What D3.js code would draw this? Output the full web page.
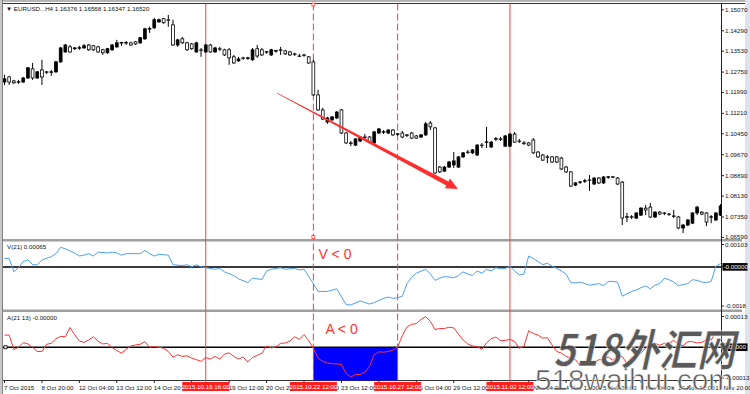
<head>
    <meta charset="utf-8">
    <style> body { margin: 0; background: #fff; } text { font-family: "Liberation Sans", Arial, sans-serif; } </style>
    <script src="https://d3js.org/d3.v7.min.js"></script>
</head>
<body>
<div id="chart"></div>
<script>

// EURUSD H4 candles, bar 0 = 7 Oct 2015 12:00
var opens = [1.1238,1.1257,1.1242,1.1238,1.1238,1.1253,1.1287,1.1253,1.1283,1.1276,
    1.1275,1.1276,1.1313,1.1350,1.1369,1.1362,1.1365,1.1365,1.1376,1.1373,
    1.1369,1.1358,1.1347,1.1358,1.1369,1.1384,1.1385,1.1384,1.1388,1.1384,
    1.1399,1.1436,1.1440,1.1462,1.1474,1.1470,1.1451,1.1376,1.1399,1.1384,
    1.1380,1.1350,1.1358,1.1350,1.1376,1.1350,1.1362,1.1358,1.1358,1.1332,
    1.1317,1.1328,1.1327,1.1321,1.1362,1.1358,1.1350,1.1339,1.1354,1.1358,
    1.1354,1.1350,1.1343,1.1335,1.1339,1.1332,1.1313,1.1190,1.1134,1.1089,
    1.1097,1.1104,1.1134,1.1048,1.1011,1.1003,1.1018,1.1033,1.1033,1.1011,
    1.1048,1.1052,1.1048,1.1059,1.1044,1.1048,1.1041,1.1048,1.1037,1.1033,
    1.1041,1.1085,1.1067,1.0921,1.0906,1.0921,1.0929,1.0921,1.0959,1.0977,
    1.0974,1.0966,1.1003,1.1014,1.0996,1.1026,1.1026,1.0999,1.0999,1.1044,
    1.1018,1.1011,1.1011,1.1022,1.0977,1.0966,1.0959,1.0959,1.0959,1.0955,
    1.0921,1.0903,1.0854,1.0865,1.0869,1.0873,1.0858,1.0880,1.0862,1.0884,
    1.0885,1.0880,1.0865,1.0735,1.0736,1.0731,1.0742,1.0768,1.0772,1.0735,
    1.0753,1.0750,1.0746,1.0739,1.0735,1.0694,1.0705,1.0712,1.0750,1.0753,
    1.0750,1.0735,1.0724,1.0742];
var highs = [1.1265,1.1261,1.1246,1.1246,1.1257,1.1294,1.1309,1.1279,1.1321,1.1279,
    1.1283,1.1317,1.1369,1.1380,1.1376,1.1369,1.1373,1.1380,1.1380,1.1376,
    1.1373,1.1362,1.1365,1.1380,1.1395,1.1388,1.1391,1.1388,1.1391,1.1406,
    1.1440,1.1444,1.1477,1.1474,1.1477,1.1488,1.1470,1.1399,1.1406,1.1388,
    1.1384,1.1388,1.1365,1.1380,1.1380,1.1369,1.1369,1.1362,1.1365,1.1339,
    1.1332,1.1332,1.1332,1.1365,1.1376,1.1365,1.1354,1.1362,1.1358,1.1369,
    1.1358,1.1354,1.1347,1.1343,1.1343,1.1335,1.1321,1.1209,1.1142,1.1108,
    1.1111,1.1130,1.1137,1.1052,1.1018,1.1029,1.1037,1.1044,1.1037,1.1056,
    1.1067,1.1059,1.1063,1.1063,1.1048,1.1056,1.1044,1.1052,1.1041,1.1044,
    1.1089,1.1093,1.1071,1.0925,1.0925,1.0944,1.0977,1.0962,1.0977,1.0985,
    1.0988,1.1007,1.1011,1.1071,1.1018,1.1033,1.1033,1.1041,1.1048,1.1052,
    1.1026,1.1018,1.1014,1.1029,1.0981,1.0970,1.0966,1.0962,1.0962,1.0959,
    1.0925,1.0906,1.0865,1.0869,1.0877,1.0891,1.0884,1.0884,1.0888,1.0888,
    1.0888,1.0884,1.0869,1.0750,1.0742,1.0753,1.0772,1.0780,1.0787,1.0757,
    1.0757,1.0753,1.0750,1.0761,1.0739,1.0709,1.0727,1.0753,1.0776,1.0757,
    1.0753,1.0742,1.0753,1.0783];
var lows = [1.1227,1.1227,1.1231,1.1231,1.1235,1.1250,1.1246,1.1250,1.1227,1.1268,
    1.1261,1.1272,1.1309,1.1347,1.1347,1.1358,1.1358,1.1362,1.1354,1.1354,
    1.1347,1.1339,1.1343,1.1354,1.1365,1.1373,1.1376,1.1373,1.1376,1.1380,
    1.1395,1.1421,1.1436,1.1459,1.1455,1.1444,1.1373,1.1369,1.1380,1.1354,
    1.1358,1.1347,1.1332,1.1347,1.1347,1.1347,1.1354,1.1335,1.1302,1.1306,
    1.1313,1.1321,1.1321,1.1317,1.1328,1.1335,1.1343,1.1335,1.1347,1.1339,
    1.1339,1.1335,1.1335,1.1332,1.1332,1.1306,1.1186,1.1130,1.1097,1.1082,
    1.1093,1.1100,1.1044,1.1007,1.0999,1.0999,1.1014,1.1022,1.1011,1.1007,
    1.1044,1.1044,1.1044,1.1037,1.1037,1.1029,1.1033,1.1026,1.1026,1.1029,
    1.1037,1.1059,1.0895,1.0899,1.0903,1.0918,1.0918,1.0918,1.0955,1.0970,
    1.0970,1.0962,1.0992,1.0992,1.0992,1.1018,1.1018,1.0996,1.0996,1.1011,
    1.1011,1.1003,1.0999,1.0970,1.0955,1.0944,1.0936,1.0936,1.0936,1.0910,
    1.0899,1.0847,1.0850,1.0858,1.0862,1.0832,1.0854,1.0858,1.0858,1.0877,
    1.0880,1.0854,1.0705,1.0716,1.0727,1.0727,1.0739,1.0742,1.0731,1.0731,
    1.0742,1.0742,1.0739,1.0731,1.0690,1.0675,1.0701,1.0709,1.0742,1.0742,
    1.0701,1.0712,1.0720,1.0739];
var closes = [1.1250,1.1238,1.1235,1.1239,1.1253,1.1291,1.1253,1.1276,1.1257,1.1275,
    1.1276,1.1313,1.1365,1.1376,1.1350,1.1365,1.1366,1.1373,1.1358,1.1358,
    1.1350,1.1347,1.1362,1.1376,1.1384,1.1385,1.1384,1.1376,1.1380,1.1403,
    1.1436,1.1437,1.1470,1.1470,1.1459,1.1469,1.1376,1.1395,1.1384,1.1358,
    1.1362,1.1384,1.1357,1.1376,1.1350,1.1365,1.1361,1.1339,1.1328,1.1309,
    1.1324,1.1327,1.1328,1.1358,1.1335,1.1339,1.1351,1.1358,1.1355,1.1357,
    1.1343,1.1339,1.1342,1.1334,1.1338,1.1309,1.1190,1.1134,1.1100,1.1104,
    1.1108,1.1126,1.1048,1.1011,1.1010,1.1026,1.1033,1.1032,1.1014,1.1052,
    1.1063,1.1053,1.1059,1.1041,1.1045,1.1033,1.1040,1.1029,1.1029,1.1041,
    1.1082,1.1071,1.0899,1.0903,1.0921,1.0940,1.0944,1.0959,1.0974,1.0976,
    1.0985,1.1003,1.1002,1.1015,1.1014,1.1027,1.1025,1.1037,1.1044,1.1014,
    1.1017,1.1010,1.1003,1.0974,1.0959,1.0947,1.0958,1.0940,1.0940,1.0914,
    1.0903,1.0850,1.0862,1.0866,1.0870,1.0872,1.0880,1.0862,1.0884,1.0885,
    1.0884,1.0858,1.0731,1.0736,1.0735,1.0750,1.0768,1.0761,1.0735,1.0753,
    1.0746,1.0749,1.0745,1.0738,1.0694,1.0705,1.0724,1.0750,1.0772,1.0746,
    1.0716,1.0736,1.0750,1.0776];

// V(21) indicator: bar index and value
var vIdx = [0,1,2,3,4,5,6,7,8,10,11,12,13,15,16,17,18,19,20,22,23,24,25,26,28,29,30,31,32,33,35,36,38,39,40,41,42,43,45,46,47,49,50,52,53,55,56,57,59,60,62,63,64,
    66,67,69,71,73,74,76,77,78,79,81,82,83,84,85,86,87,88,90,91,92,93,94,96,97,98,99,100,101,102,103,104,105,106,107,108,109,110,111,
    112,113,114,115,116,117,118,119,120,121,122,123,124,125,127,128,129,130,131,132,133,134,135,136,137,138,139,140,141,142,143,144,145,146,147,148,149,150,151,152,153];
var vVal = [0.00039,0.00039,-0.00023,-0.00004,0.00025,0.00032,0.00010,0.00010,0.00032,0.00047,0.00061,0.00090,0.00083,0.00064,0.00050,0.00054,0.00061,0.00050,0.00068,0.00064,0.00068,0.00064,0.00054,0.00061,0.00061,0.00061,0.00076,0.00061,0.00050,0.00058,0.00054,0.00010,0.00006,0.00010,0,0.00010,0,-0.00004,-0.00011,-0.00007,-0.00023,-0.00040,-0.00055,-0.00072,-0.00052,-0.00058,-0.00019,-0.00011,-0.00004,-0.00011,-0.00007,-0.00014,-0.00011,
    -0.00077,-0.00113,-0.00113,-0.00101,-0.00174,-0.00175,-0.00157,-0.00164,-0.00171,-0.00164,-0.00145,-0.00139,-0.00145,-0.00142,-0.00135,-0.00077,-0.00048,-0.00029,-0.00011,-0.00033,-0.00062,-0.00052,-0.00044,-0.00050,-0.00040,-0.00023,-0.00033,-0.00040,-0.00019,-0.00029,-0.00011,-0.00019,-0.00004,-0.00009,-0.00007,0.00003,-0.00019,-0.00037,-0.00033,
    0.00050,0.00039,0.00025,0.00010,0.00017,0.00003,-0.00007,-0.00019,-0.00033,-0.00072,-0.00074,-0.00070,-0.00077,-0.00084,-0.00077,-0.00087,-0.00067,-0.00067,-0.00070,-0.00135,-0.00124,-0.00113,-0.00106,-0.00096,-0.00087,-0.00101,-0.00084,-0.00077,-0.00052,-0.00059,-0.00070,-0.00087,-0.00081,-0.00077,-0.00059,-0.00062,-0.00070,-0.00072,-0.00067,0.00003,0.00015];

// A(21 13) indicator, one value per bar
var aVal = [5.13e-5,5.13e-5,-0.97e-5,0,1.94e-5,1.39e-5,0,-1.80e-5,-1.80e-5,1.25e-5,
    1.66e-5,3.61e-5,4.58e-5,4.44e-5,8.32e-5,5.27e-5,2.64e-5,2.08e-5,3.05e-5,4.44e-5,
    2.50e-5,1.39e-5,1.66e-5,-0.14e-5,-1.39e-5,-2.50e-5,-0.83e-5,0.55e-5,0.97e-5,1.25e-5,
    2.36e-5,0,0.28e-5,0,-0.42e-5,-1.80e-5,-4.16e-5,-3.19e-5,-3.88e-5,-3.61e-5,
    -4.58e-5,-5.27e-5,-5.96e-5,-4.30e-5,-4.99e-5,-3.88e-5,-4.99e-5,-2.91e-5,-2.36e-5,-3.88e-5,
    -4.99e-5,-4.16e-5,-6.24e-5,-4.30e-5,-3.47e-5,-2.50e-5,0.55e-5,-0.28e-5,0.14e-5,1.66e-5,
    1.80e-5,2.64e-5,4.44e-5,3.33e-5,5.41e-5,2.77e-5,-0.42e-5,-4.58e-5,-5.96e-5,-6.66e-5,
    -6.94e-5,-7.07e-5,-7.35e-5,-11.10e-5,-12.62e-5,-11.51e-5,-11.51e-5,-10.54e-5,-8.04e-5,-3.19e-5,
    -1.94e-5,-2.08e-5,-1.80e-5,-1.25e-5,0.14e-5,4.85e-5,8.60e-5,9.71e-5,9.99e-5,11.79e-5,
    12.90e-5,10.96e-5,7.49e-5,7.91e-5,7.91e-5,8.46e-5,8.18e-5,5.55e-5,3.05e-5,1.39e-5,
    0.55e-5,0.28e-5,-0.83e-5,1.80e-5,3.61e-5,4.30e-5,2.77e-5,2.91e-5,3.33e-5,2.50e-5,
    -0.42e-5,0.42e-5,6.94e-5,5.83e-5,5.13e-5,3.88e-5,4.02e-5,0.97e-5,-1.80e-5,-2.50e-5,
    -3.88e-5,-4.58e-5,-5.27e-5,-7.77e-5,-7.07e-5,-7.21e-5,-6.38e-5,-5.27e-5,-5.27e-5,-4.16e-5,
    -5.55e-5,-3.61e-5,-3.88e-5,-6.94e-5,-4.16e-5,-4.30e-5,-2.50e-5,-0.28e-5,0.97e-5,1.66e-5,
    0.83e-5,1.66e-5,1.66e-5,2.91e-5,1.25e-5,0.69e-5,2.36e-5,2.36e-5,1.80e-5,2.08e-5,
    3.33e-5,3.05e-5,6.38e-5,6.10e-5];

var priceTicks = [1.15070,1.14290,1.13530,1.12750,1.11990,1.11210,1.10450,1.09670,1.08890,1.08130,1.07350,1.06590];
var timeTickIdx = [0,8,16,24,32,40,48,56,64,72,80,88,96,104,112,120,128,136,144,152];
var timeTickText = ["7 Oct 2015","8 Oct 20:00","12 Oct 04:00","13 Oct 12:00","14 Oct 20:00","16 Oct 04:00","19 Oct 12:00","20 Oct 20:00","22 Oct 04:00","23 Oct 12:00",
    "26 Oct 20:00","28 Oct 04:00","29 Oct 12:00","30 Oct 20:00","3 Nov 04:00","4 Nov 12:00","5 Nov 20:00","9 Nov 04:00","10 Nov 12:00","11 Nov 20:00"];
var lineIdx = [43, 66, 84, 108];
var lineText = ["2015.10.16 16:00","2015.10.22 12:00","2015.10.27 12:00","2015.11.02 12:00"];
var lineDashed = [false, true, true, false];

var W = 750, H = 394;
var plotL = 3, plotR = 721.5;
var mainTop = 3.5, mainBot = 239;
var vTop = 241.5, vBot = 309.5;
var aTop = 312, aBot = 380.5;
var small = "6.2px";

var svg = d3.select("#chart").append("svg")
    .attr("width", W)
    .attr("height", H);

svg.append("rect").attr("width", W).attr("height", H).attr("fill", "#fff");

var x = d3.scaleLinear().domain([0, 153]).range([4.5, 4.5 + 153 * 4.68]);
var y = d3.scaleLinear().domain([1.0653, 1.1525]).range([mainBot, 5]);
var vY = d3.scaleLinear().domain([-0.0018, 0.00103]).range([306, 244.5]);
var aY = d3.scaleLinear().domain([-0.00013, 0.00013]).range([378, 316.5]);

var defs = svg.append("defs");
defs.append("clipPath").attr("id", "clipMain").append("rect")
    .attr("x", plotL).attr("y", mainTop).attr("width", plotR - plotL).attr("height", mainBot - mainTop);
defs.append("clipPath").attr("id", "clipV").append("rect")
    .attr("x", plotL).attr("y", vTop).attr("width", plotR - plotL).attr("height", vBot - vTop);
defs.append("clipPath").attr("id", "clipA").append("rect")
    .attr("x", plotL).attr("y", aTop).attr("width", plotR - plotL).attr("height", aBot - aTop);

// window chrome
svg.append("rect").attr("x", 0).attr("y", 0).attr("width", W).attr("height", 2).attr("fill", "#b4b4b4");
svg.append("rect").attr("x", 0).attr("y", 0).attr("width", 2.5).attr("height", H).attr("fill", "#c8c8c8");
svg.append("line").attr("x1", 2.5).attr("x2", 2.5).attr("y1", 0).attr("y2", H).attr("stroke", "#808080");
svg.append("rect").attr("x", 745).attr("y", 0).attr("width", 5).attr("height", H).attr("fill", "#dce3ec");
svg.append("rect").attr("x", plotL).attr("y", mainBot).attr("width", 742 - plotL).attr("height", vTop - mainBot).attr("fill", "#a0a0a0");
svg.append("rect").attr("x", plotL).attr("y", vBot).attr("width", 742 - plotL).attr("height", aTop - vBot).attr("fill", "#a0a0a0");
svg.append("line").attr("x1", plotL).attr("x2", 745).attr("y1", mainTop).attr("y2", mainTop).attr("stroke", "#333").attr("stroke-width", 1);
svg.append("line").attr("x1", plotL).attr("x2", plotR).attr("y1", aBot).attr("y2", aBot).attr("stroke", "#333").attr("stroke-width", 1);
svg.append("line").attr("x1", plotR).attr("x2", plotR).attr("y1", mainTop).attr("y2", aBot + 2).attr("stroke", "#222").attr("stroke-width", 1);

// blue fill where A < 0
svg.append("rect")
    .attr("x", x(66)).attr("width", x(84) - x(66))
    .attr("y", aY(0)).attr("height", aBot - aY(0))
    .attr("fill", "#0000ff");

// zero lines
svg.append("line").attr("x1", plotL).attr("x2", plotR).attr("y1", vY(0)).attr("y2", vY(0)).attr("stroke", "#3a3a3a").attr("stroke-width", 2);
svg.append("line").attr("x1", plotL).attr("x2", plotR).attr("y1", aY(0)).attr("y2", aY(0)).attr("stroke", "#000").attr("stroke-width", 1.5);
svg.append("rect").attr("x", 4).attr("y", aY(0) - 1.5).attr("width", 3).attr("height", 3).attr("fill", "#fff").attr("stroke", "#000").attr("stroke-width", 0.8);

// vertical lines
lineIdx.forEach(function(d, k) {
    svg.append("line")
        .attr("x1", x(d)).attr("x2", x(d))
        .attr("y1", mainTop).attr("y2", aBot + 2)
        .attr("stroke", "#ff3a3a").attr("stroke-width", 1)
        .attr("stroke-dasharray", lineDashed[k] ? "7,3" : null);
});
[mainTop + 1, mainBot - 2].forEach(function(yy) {
    svg.append("rect").attr("x", x(66) - 1.5).attr("y", yy - 1.5).attr("width", 3).attr("height", 3)
        .attr("fill", "#fff").attr("stroke", "#ff3a3a").attr("stroke-width", 0.8);
});

// candles
var main = svg.append("g").attr("clip-path", "url(#clipMain)");
var idx = d3.range(opens.length);
var candles = main.selectAll(".candle").data(idx).enter().append("g").attr("class", "candle");
candles.append("line")
    .attr("x1", i => x(i)).attr("x2", i => x(i))
    .attr("y1", i => y(highs[i])).attr("y2", i => y(lows[i]))
    .attr("stroke", "#000").attr("stroke-width", 1);
candles.append("rect")
    .attr("x", i => x(i) - 1.4).attr("width", 2.8)
    .attr("y", i => y(Math.max(opens[i], closes[i])))
    .attr("height", i => Math.max(0.5, Math.abs(y(opens[i]) - y(closes[i]))))
    .attr("fill", i => closes[i] >= opens[i] ? "#000" : "#fff")
    .attr("stroke", "#000").attr("stroke-width", 0.8);

// indicator lines
svg.append("g").attr("clip-path", "url(#clipV)").append("path")
    .datum(vIdx)
    .attr("fill", "none").attr("stroke", "#4ca0f0").attr("stroke-width", 1)
    .attr("d", d3.line().x(i => x(i)).y((i, k) => vY(vVal[k])));
svg.append("g").attr("clip-path", "url(#clipA)").append("path")
    .datum(idx)
    .attr("fill", "none").attr("stroke", "#ff3333").attr("stroke-width", 1)
    .attr("d", d3.line().x(i => x(i)).y(i => aY(aVal[i])));

// arrow
var arrowFrom = [58.2, 1.1197], arrowTo = [96.9, 1.0839];
(function() {
    var x1 = x(arrowFrom[0]), y1 = y(arrowFrom[1]), x2 = x(arrowTo[0]), y2 = y(arrowTo[1]);
    var len = Math.hypot(x2 - x1, y2 - y1), dx = (x2 - x1) / len, dy = (y2 - y1) / len;
    var nx = -dy, ny = dx, head = 12;
    var bx = x2 - dx * head, by = y2 - dy * head;
    var pts = [
        [x1 + nx * 0.4, y1 + ny * 0.4], [bx + nx * 2.2, by + ny * 2.2], [bx + nx * 5.5, by + ny * 5.5],
        [x2, y2],
        [bx - nx * 5.5, by - ny * 5.5], [bx - nx * 2.2, by - ny * 2.2], [x1 - nx * 0.4, y1 - ny * 0.4]
    ];
    svg.append("polygon").attr("points", pts.map(p => p.join(",")).join(" ")).attr("fill", "#ff2d2d");
})();

// annotations
svg.append("text").attr("x", x(66) + 5).attr("y", 259).text("V < 0")
    .attr("fill", "#ff3333").style("font-size", "14px");
svg.append("text").attr("x", x(66) + 12).attr("y", 334).text("A < 0")
    .attr("fill", "#ff3333").style("font-size", "14px");

svg.append("text").attr("x", 6).attr("y", 10.5).text("\u25BC EURUSD...H4  1.16376 1.16568 1.16347 1.16520")
    .attr("fill", "#111").style("font-size", small);
svg.append("text").attr("x", 7).attr("y", 248.5).text("V(21) 0.00065").attr("fill", "#111").style("font-size", small);
svg.append("text").attr("x", 7).attr("y", 319.5).text("A(21 13) -0.00000").attr("fill", "#111").style("font-size", small);

// price axis
priceTicks.forEach(function(p) {
    svg.append("line").attr("x1", plotR).attr("x2", plotR + 2.5).attr("y1", y(p)).attr("y2", y(p)).attr("stroke", "#222");
    svg.append("text").attr("x", 725).attr("y", y(p) + 2).text(p.toFixed(5)).attr("fill", "#111").style("font-size", small);
});

function axisLabel(val, yy, txt, boxed) {
    svg.append("line").attr("x1", plotR).attr("x2", plotR + 2.5).attr("y1", yy).attr("y2", yy).attr("stroke", "#222");
    if (boxed) {
        svg.append("rect").attr("x", plotR + 1).attr("y", yy - 3.8).attr("width", 25).attr("height", 7.6).attr("fill", "#000");
    }
    svg.append("text").attr("x", boxed ? 723.5 : 725).attr("y", yy + 2).text(txt)
        .attr("fill", boxed ? "#fff" : "#111").style("font-size", small);
}
axisLabel(0.00103, vY(0.00103), "0.00103", false);
axisLabel(0, vY(0), "-0.00000", true);
axisLabel(-0.0018, vY(-0.0018), "-0.0018", false);
axisLabel(0.00013, aY(0.00013), "0.00013", false);
axisLabel(0, aY(0), "0.00000", true);
axisLabel(-0.00013, aY(-0.00013), "-0.00013", false);

// time axis
timeTickIdx.forEach(function(d, k) {
    svg.append("line").attr("x1", x(d)).attr("x2", x(d)).attr("y1", aBot).attr("y2", aBot + 2.5).attr("stroke", "#222");
    svg.append("text").attr("x", x(d) - 0.5).attr("y", 389.5).text(timeTickText[k]).attr("fill", "#111").style("font-size", small);
});
lineIdx.forEach(function(d, k) {
    svg.append("rect").attr("x", x(d) - 23.5).attr("y", 382).attr("width", 47).attr("height", 9).attr("fill", "#ff1f1f");
    svg.append("text").attr("x", x(d)).attr("y", 389.3).attr("text-anchor", "middle").text(lineText[k])
        .attr("fill", "#fff").style("font-size", small);
});

// watermark
svg.append("text").attr("x", 553).attr("y", 366).text("518外汇网")
    .attr("textLength", 182).attr("lengthAdjust", "spacingAndGlyphs")
    .attr("fill", "#4d4d4d").attr("stroke", "#fff").attr("stroke-width", 0.6).attr("opacity", 0.92)
    .style("font-family", "'Noto Sans CJK SC', sans-serif").style("font-size", "44px").style("font-weight", "bold").style("font-style", "italic");
svg.append("text").attr("x", 535).attr("y", 390).text("518waihui.com")
    .attr("textLength", 198).attr("lengthAdjust", "spacingAndGlyphs")
    .attr("fill", "#505050").attr("stroke", "#fff").attr("stroke-width", 0.6).attr("opacity", 0.92)
    .style("font-size", "30px");

</script>
</body>
